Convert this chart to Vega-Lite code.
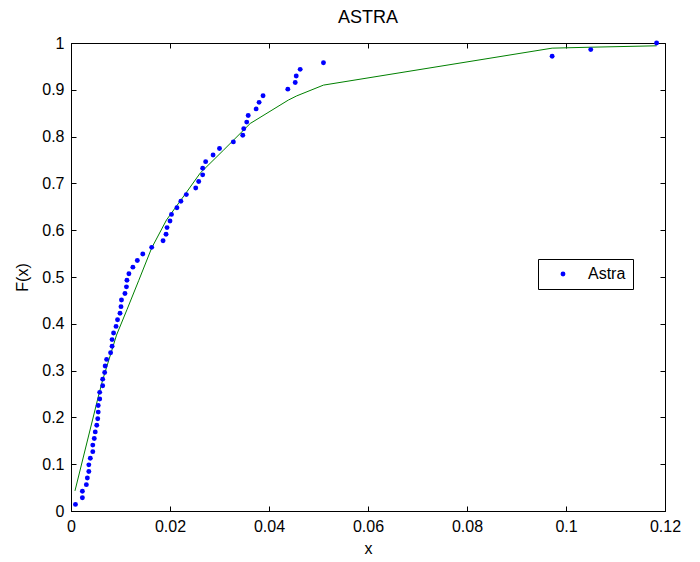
{
  "$schema": "https://vega.github.io/schema/vega-lite/v6.json",
  "width": 594,
  "height": 468,
  "autosize": {"type": "none"},
  "padding": {"left": 71, "top": 43, "right": 35, "bottom": 51},
  "background": "white",
  "config": {
    "font": "Liberation Sans",
    "view": {"stroke": "black", "strokeWidth": 1},
    "axis": {
      "grid": false,
      "domainColor": "black",
      "tickColor": "black",
      "labelColor": "black",
      "titleColor": "black",
      "labelFont": "Liberation Sans",
      "titleFont": "Liberation Sans",
      "labelFontSize": 16,
      "titleFontSize": 16,
      "titleFontWeight": "normal",
      "labelFlush": false,
      "tickSize": -5,
      "labelPadding": 12
    }
  },
  "title": {
    "text": "ASTRA",
    "fontSize": 18,
    "fontWeight": "normal",
    "font": "Liberation Sans",
    "color": "black",
    "offset": 8
  },
  "datasets": {
    "points": [
      {"x": 0.0009, "F": 0.0141},
      {"x": 0.0023, "F": 0.0282},
      {"x": 0.0023, "F": 0.0423},
      {"x": 0.0031, "F": 0.0563},
      {"x": 0.0033, "F": 0.0704},
      {"x": 0.0036, "F": 0.0845},
      {"x": 0.0036, "F": 0.0986},
      {"x": 0.0039, "F": 0.1127},
      {"x": 0.0044, "F": 0.1268},
      {"x": 0.0044, "F": 0.1408},
      {"x": 0.0047, "F": 0.1549},
      {"x": 0.0049, "F": 0.169},
      {"x": 0.0052, "F": 0.1831},
      {"x": 0.0054, "F": 0.1972},
      {"x": 0.0055, "F": 0.2113},
      {"x": 0.0055, "F": 0.2254},
      {"x": 0.0058, "F": 0.2394},
      {"x": 0.0058, "F": 0.2535},
      {"x": 0.0064, "F": 0.2676},
      {"x": 0.0064, "F": 0.2817},
      {"x": 0.0068, "F": 0.2958},
      {"x": 0.0069, "F": 0.3099},
      {"x": 0.0072, "F": 0.3239},
      {"x": 0.008, "F": 0.338},
      {"x": 0.0083, "F": 0.3521},
      {"x": 0.0083, "F": 0.3662},
      {"x": 0.0086, "F": 0.3803},
      {"x": 0.0091, "F": 0.3944},
      {"x": 0.0094, "F": 0.4085},
      {"x": 0.0099, "F": 0.4225},
      {"x": 0.0101, "F": 0.4366},
      {"x": 0.0102, "F": 0.4507},
      {"x": 0.0109, "F": 0.4648},
      {"x": 0.0112, "F": 0.4789},
      {"x": 0.0113, "F": 0.493},
      {"x": 0.0117, "F": 0.507},
      {"x": 0.0125, "F": 0.5211},
      {"x": 0.0134, "F": 0.5352},
      {"x": 0.0145, "F": 0.5493},
      {"x": 0.0163, "F": 0.5634},
      {"x": 0.0186, "F": 0.5775},
      {"x": 0.0192, "F": 0.5915},
      {"x": 0.0194, "F": 0.6056},
      {"x": 0.02, "F": 0.6197},
      {"x": 0.0203, "F": 0.6338},
      {"x": 0.0214, "F": 0.6479},
      {"x": 0.0222, "F": 0.662},
      {"x": 0.0233, "F": 0.6761},
      {"x": 0.0252, "F": 0.6901},
      {"x": 0.0258, "F": 0.7042},
      {"x": 0.0266, "F": 0.7183},
      {"x": 0.0266, "F": 0.7324},
      {"x": 0.0272, "F": 0.7465},
      {"x": 0.0287, "F": 0.7606},
      {"x": 0.03, "F": 0.7746},
      {"x": 0.0328, "F": 0.7887},
      {"x": 0.0347, "F": 0.8028},
      {"x": 0.0349, "F": 0.8169},
      {"x": 0.0355, "F": 0.831},
      {"x": 0.0358, "F": 0.8451},
      {"x": 0.0374, "F": 0.8592},
      {"x": 0.038, "F": 0.8732},
      {"x": 0.0388, "F": 0.8873},
      {"x": 0.0438, "F": 0.9014},
      {"x": 0.0453, "F": 0.9155},
      {"x": 0.0455, "F": 0.9296},
      {"x": 0.0463, "F": 0.9437},
      {"x": 0.051, "F": 0.9577},
      {"x": 0.0972, "F": 0.9718},
      {"x": 0.105, "F": 0.9859},
      {"x": 0.1183, "F": 1}
    ],
    "fit": [
      {"x": 0.0008, "F": 0.043},
      {"x": 0.0056, "F": 0.248},
      {"x": 0.0064, "F": 0.28},
      {"x": 0.0092, "F": 0.376},
      {"x": 0.0113, "F": 0.43},
      {"x": 0.0137, "F": 0.493},
      {"x": 0.0163, "F": 0.562},
      {"x": 0.0193, "F": 0.622},
      {"x": 0.0234, "F": 0.682},
      {"x": 0.0261, "F": 0.722},
      {"x": 0.0308, "F": 0.771},
      {"x": 0.0362, "F": 0.828},
      {"x": 0.0439, "F": 0.878},
      {"x": 0.0456, "F": 0.887},
      {"x": 0.051, "F": 0.91},
      {"x": 0.0972, "F": 0.989},
      {"x": 0.105, "F": 0.991},
      {"x": 0.1183, "F": 0.994}
    ]
  },
  "layer": [
    {
      "data": {"name": "fit"},
      "mark": {"type": "line", "color": "#008000", "strokeWidth": 1},
      "encoding": {
        "x": {
          "field": "x",
          "type": "quantitative",
          "scale": {"domain": [0, 0.12], "nice": false, "zero": false},
          "axis": {"orient": "top", "values": [0, 0.02, 0.04, 0.06, 0.08, 0.1, 0.12], "labels": false, "title": null, "domain": false}
        },
        "y": {
          "field": "F",
          "type": "quantitative",
          "scale": {"domain": [0, 1], "nice": false},
          "axis": {"orient": "right", "values": [0, 0.1, 0.2, 0.3, 0.4, 0.5, 0.6, 0.7, 0.8, 0.9, 1], "labels": false, "title": null, "domain": false}
        }
      }
    },
    {
      "data": {"name": "points"},
      "mark": {"type": "point", "filled": true, "shape": "circle", "size": 24, "opacity": 1},
      "encoding": {
        "x": {
          "field": "x",
          "type": "quantitative",
          "axis": {"orient": "bottom", "values": [0, 0.02, 0.04, 0.06, 0.08, 0.1, 0.12], "format": ".2~f", "title": "x", "titlePadding": 6}
        },
        "y": {
          "field": "F",
          "type": "quantitative",
          "axis": {"orient": "left", "values": [0, 0.1, 0.2, 0.3, 0.4, 0.5, 0.6, 0.7, 0.8, 0.9, 1], "format": ".1~f", "title": "F(x)", "titlePadding": 11}
        },
        "color": {
          "datum": "Astra",
          "type": "nominal",
          "scale": {"domain": ["Astra"], "range": ["#0000ff"]},
          "legend": {
            "title": null,
            "orient": "none",
            "legendX": 467,
            "legendY": 216,
            "direction": "vertical",
            "fillColor": "white",
            "strokeColor": "black",
            "padding": 7,
            "symbolSize": 24,
            "symbolOffset": 10,
            "labelOffset": 17,
            "labelFontSize": 16,
            "labelFont": "Liberation Sans",
            "labelColor": "black",
            "labelExpr": "datum.label + '\u2003'"
          }
        }
      }
    }
  ],
  "resolve": {"axis": {"x": "independent", "y": "independent"}}
}
